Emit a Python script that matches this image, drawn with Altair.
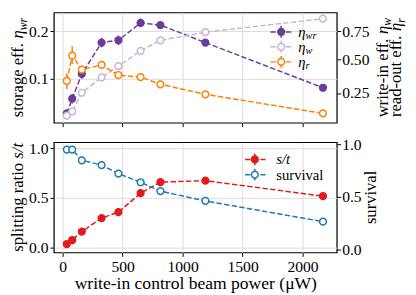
import altair as alt
import pandas as pd

# ---------------- data ----------------
power = [35, 80, 160, 325, 465, 650, 815, 1190, 2170]
eta_wr = [0.027, 0.058, 0.110, 0.176, 0.181, 0.2175, 0.213, 0.176, 0.081]
eta_wr_err = [0.008, 0.010, 0.010, 0.010, 0.010, 0.009, 0.007, 0.007, 0.005]
eta_w = [0.120, 0.141, 0.252, 0.358, 0.444, 0.571, 0.665, 0.741, 0.872]
eta_r = [0.333, 0.531, 0.417, 0.454, 0.376, 0.360, 0.309, 0.242, 0.131]
eta_r_lo = [0.277, 0.462, 0.388, 0.432, 0.356, 0.341, 0.291, 0.226, 0.119]
eta_r_hi = [0.388, 0.612, 0.449, 0.477, 0.397, 0.380, 0.328, 0.258, 0.144]
split_ratio = [0.04, 0.08, 0.165, 0.30, 0.36, 0.55, 0.66, 0.675, 0.52]
survival = [0.95, 0.95, 0.848, 0.803, 0.721, 0.639, 0.555, 0.461, 0.264]

x_ticks = [0, 500, 1000, 1500, 2000]
top_left_ticks = [0.1, 0.2]
top_right_ticks = [0.25, 0.5, 0.75]
bottom_ticks = [0.0, 0.5, 1.0]

# ---------------- style ----------------
FONT = "Liberation Serif"
W, H1, H2 = 290, 113, 113
C_WR, C_W, C_R = "#6a3d9a", "#cab2d6", "#ff7f00"
C_ST, C_SV = "#e31a1c", "#1f78b4"
DASH = [5.5, 2.4]
MSIZE = 48

df = pd.DataFrame({
    "power": power,
    "eta_wr": eta_wr,
    "wr_lo": [v - e for v, e in zip(eta_wr, eta_wr_err)],
    "wr_hi": [v + e for v, e in zip(eta_wr, eta_wr_err)],
    "eta_w": eta_w,
    "eta_r": eta_r,
    "r_lo": eta_r_lo,
    "r_hi": eta_r_hi,
    "split": split_ratio,
    "survival": survival,
})
one = pd.DataFrame({"k": [0]})

XSCALE = alt.Scale(domain=[-73, 2285], nice=False, zero=False)


def xenc(labels, title=None):
    if labels:
        ax = alt.Axis(values=x_ticks, format="d", grid=True, title=title,
                      titlePadding=1, labelPadding=2)
    else:
        ax = alt.Axis(values=x_ticks, labels=False, grid=True, title=None)
    return alt.X("power:Q", scale=XSCALE, axis=ax)


def series(col, color, yfn, xfn, filled, lo=None, hi=None):
    layers = [
        alt.Chart(df).mark_line(color=color, strokeWidth=1.5, strokeDash=DASH)
        .encode(x=xfn(), y=yfn(col))
    ]
    if lo is not None:
        layers.append(
            alt.Chart(df).mark_rule(color=color, strokeWidth=1.5)
            .encode(x=xfn(), y=yfn(lo), y2=alt.Y2(hi))
        )
    layers.append(
        alt.Chart(df).mark_point(shape="circle", filled=True, size=MSIZE, opacity=1,
                                 fill=color if filled else "white", stroke=color,
                                 strokeWidth=1.5)
        .encode(x=xfn(), y=yfn(col))
    )
    return layers


# ----- text helpers -----
REG = {'a': .444, 'b': .5, 'c': .444, 'd': .5, 'e': .444, 'f': .333, 'g': .5, 'h': .5,
       'i': .278, 'j': .278, 'k': .5, 'l': .278, 'm': .778, 'n': .5, 'o': .5, 'p': .5,
       'q': .5, 'r': .333, 's': .389, 't': .278, 'u': .5, 'v': .5, 'w': .722, 'x': .5,
       'y': .5, 'z': .444, ' ': .25, '.': .25, '-': .333, '/': .278, 'η': .5}
ITA = dict(REG, w=.667, r=.389)


def twidth(text, size, style):
    tab = ITA if style == "italic" else REG
    return sum(tab.get(c, .5) for c in text) * size


def txt(text, x, y, size, angle=0, align="left", baseline="alphabetic", style="normal"):
    return alt.Chart(one).mark_text(
        text=text, font=FONT, fontSize=size, angle=angle, align=align,
        baseline=baseline, fontStyle=style, color="black"
    ).encode(x=alt.value(x), y=alt.value(y))


def rot_title(parts, xbase, ycenter):
    total = sum(twidth(t, s, st) for t, s, st, sh in parts)
    y = ycenter + total / 2
    out = []
    for t, s, st, sh in parts:
        w = twidth(t, s, st)
        if t.strip():
            out.append(txt(t, xbase + sh, y, s, angle=270, style=st))
        y -= w
    return out


def legend_entry(xl1, xl2, xm, y, color, filled):
    return [
        alt.Chart(one).mark_rule(color=color, strokeWidth=1.5, strokeDash=DASH)
        .encode(x=alt.value(xl1), x2=alt.value(xl2), y=alt.value(y)),
        alt.Chart(one).mark_rule(color=color, strokeWidth=1.5)
        .encode(x=alt.value(xm), y=alt.value(y - 6), y2=alt.value(y + 6)),
        alt.Chart(one).mark_point(shape="circle", filled=True, size=MSIZE, opacity=1,
                                  fill=color if filled else "white", stroke=color,
                                  strokeWidth=1.5)
        .encode(x=alt.value(xm), y=alt.value(y)),
    ]


# ---------------- top panel ----------------
def y_top_left(col):
    return alt.Y(f"{col}:Q", scale=alt.Scale(domain=[0.0073, 0.2394], nice=False, zero=False),
                 axis=alt.Axis(values=top_left_ticks, format=".1f", title=None, grid=True,
                               orient="left", labelPadding=2))


def y_top_right(col):
    return alt.Y(f"{col}:Q",
                 scale=alt.Scale(type="pow", exponent=0.65, domain=[0.086, 0.935],
                                 nice=False, zero=False),
                 axis=alt.Axis(values=top_right_ticks, format=".2f", title=None, grid=False,
                               orient="right", labelPadding=1))


xt = lambda: xenc(False)
top_left = alt.layer(*series("eta_wr", C_WR, y_top_left, xt, True, "wr_lo", "wr_hi"))
top_right = alt.layer(
    *series("eta_w", C_W, y_top_right, xt, False),
    *series("eta_r", C_R, y_top_right, xt, False, "r_lo", "r_hi"),
)

TF = 17
SF = 12
top_extra = []
top_extra += rot_title([("storage eff.", TF, "normal", 0), (" ", TF, "normal", 0),
                        ("η", TF, "italic", 0), ("wr", SF, "italic", 4)], -32, H1 / 2)
top_extra += rot_title([("write-in eff.", TF, "normal", 0), (" ", TF, "normal", 0),
                        ("η", TF, "italic", 0), ("w", SF, "italic", 4)], 342, H1 / 2)
top_extra += rot_title([("read-out eff.", TF, "normal", 0), (" ", TF, "normal", 0),
                        ("η", TF, "italic", 0), ("r", SF, "italic", 4)], 356, H1 / 2)
LF = 15
for yrow, color, filled, sub in [(19.9, C_WR, True, "wr"), (35.2, C_W, False, "w"),
                                 (50.6, C_R, False, "r")]:
    top_extra += legend_entry(222, 245, 233, yrow, color, filled)
    top_extra.append(txt("η", 250.5, yrow, LF, baseline="middle", style="italic"))
    top_extra.append(txt(sub, 258, yrow + 4, 10.5, baseline="middle", style="italic"))

top = alt.layer(top_left, top_right, *top_extra).resolve_scale(y="independent").properties(
    width=W, height=H1)


# ---------------- bottom panel ----------------
def y_bot_left(col):
    return alt.Y(f"{col}:Q", scale=alt.Scale(domain=[-0.045, 1.06], nice=False, zero=False),
                 axis=alt.Axis(values=bottom_ticks, format=".1f", title=None, grid=True,
                               orient="left", labelPadding=2))


def y_bot_right(col):
    return alt.Y(f"{col}:Q", scale=alt.Scale(domain=[-0.03, 1.02], nice=False, zero=False),
                 axis=alt.Axis(values=bottom_ticks, format=".1f", title=None, grid=False,
                               orient="right", labelPadding=1))


xb = lambda: xenc(True, "write-in control beam power (μW)")
bot_left = alt.layer(*series("split", C_ST, y_bot_left, xb, True))
bot_right = alt.layer(*series("survival", C_SV, y_bot_right, xb, False))

bot_extra = []
bot_extra += rot_title([("splitting ratio", TF, "normal", 0), (" ", TF, "normal", 0),
                        ("s/t", TF, "italic", 0)], -32, H2 / 2)
bot_extra += rot_title([("survival", TF, "normal", 0)], 330, H2 / 2)
bot_extra += legend_entry(196, 217, 206, 17.6, C_ST, True)
bot_extra.append(txt("s/t", 228, 17.6, LF, baseline="middle", style="italic"))
bot_extra += legend_entry(196, 217, 206, 33.2, C_SV, False)
bot_extra.append(txt("survival", 228, 33.2, LF, baseline="middle"))

bottom = alt.layer(bot_left, bot_right, *bot_extra).resolve_scale(y="independent").properties(
    width=W, height=H2)

chart = alt.vconcat(top, bottom, spacing=7).properties(
    padding={"left": 0, "top": 0, "right": 0, "bottom": 0},
    autosize=alt.AutoSizeParams(type="pad"),
).configure_view(
    stroke="black", strokeWidth=1.25
).configure_axis(
    labelFont=FONT, labelFontSize=16, labelColor="black",
    titleFont=FONT, titleFontSize=18, titleColor="black", titleFontWeight="normal",
    tickColor="black", tickSize=4, tickWidth=1, domain=False,
    gridColor="#dcdcdc", gridWidth=1,
)

chart.save("out.html", embed_options={"renderer": "svg", "actions": False})
